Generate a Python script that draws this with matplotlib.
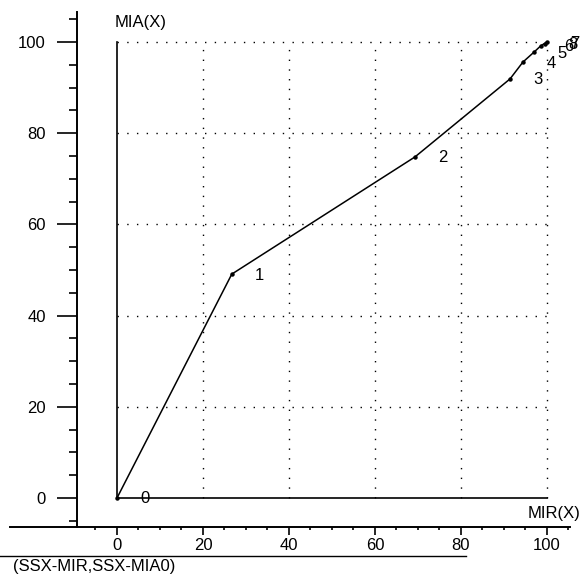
import matplotlib
matplotlib.use("Agg")
import matplotlib.pyplot as plt
from matplotlib.lines import Line2D
from matplotlib.ticker import MultipleLocator

plt.rcParams['font.family'] = ['Liberation Sans', 'DejaVu Sans']

# Data
mir = [0, 26.7, 69.3, 91.4, 94.4, 97.0, 98.6, 100.0, 99.6]
mia = [0, 49.1, 74.8, 91.9, 95.6, 97.8, 99.2, 100.0, 99.6]
point_labels = ["0", "1", "2", "3", "4", "5", "6", "7", "8"]
xticks = [0, 20, 40, 60, 80, 100]
yticks = [0, 20, 40, 60, 80, 100]
xlabel = "MIR(X)"
ylabel = "MIA(X)"
footer = "(SSX-MIR,SSX-MIA0)"

W, H = 582, 580
fig = plt.figure(figsize=(W / 100, H / 100), dpi=100)
ax = fig.add_axes([77 / W, (H - 527) / H, (570 - 77) / W, (527 - 12) / H])
ax.set_xlim(-9.30, 105.35)
ax.set_ylim(-6.36, 106.58)

for s in ["top", "right"]:
    ax.spines[s].set_visible(False)
for s in ["left", "bottom"]:
    ax.spines[s].set_linewidth(1.4)

ax.set_xticks(xticks)
ax.set_yticks(yticks)
ax.xaxis.set_minor_locator(MultipleLocator(5))
ax.yaxis.set_minor_locator(MultipleLocator(5))
ax.tick_params(axis='y', which='major', direction='out', length=14.4, width=1.2, pad=8, labelsize=12)
ax.tick_params(axis='y', which='minor', direction='out', length=6, width=1.2)
ax.tick_params(axis='x', which='major', direction='out', length=6, width=1.2, pad=2, labelsize=12)
ax.tick_params(axis='x', which='minor', direction='out', length=2.2, width=1.2)

# extend bottom line to the left
ax.plot([-24.9, -9.30], [-6.36, -6.36], color='black', lw=1.4, clip_on=False)

# dotted grid
for g in xticks[1:]:
    ax.plot([g, g], [0, 100], color='black', lw=1.0, linestyle=(0, (1, 6)))
for g in yticks[1:]:
    ax.plot([0, 100], [g, g], color='black', lw=1.0, linestyle=(0, (1, 6)))

# inner axes
ax.plot([0, 0], [0, 100], color='black', lw=1.2)
ax.plot([0, 100], [0, 0], color='black', lw=1.2)

# data
ax.plot(mir, mia, color='black', lw=1.1, marker='o', markersize=2.2)
for x, y, t in zip(mir, mia, point_labels):
    ax.annotate(t, (x, y), xytext=(28, -1), textcoords='offset pixels',
                ha='center', va='center', fontsize=12, annotation_clip=False)

ax.text(-0.5, 104.2, ylabel, fontsize=12, ha='left', va='center')
ax.text(95.6, -3.3, xlabel, fontsize=12, ha='left', va='center', clip_on=False)

fig.add_artist(Line2D([0, 466 / W], [1 - 556 / H, 1 - 556 / H], color='black', lw=1.0))
fig.text(13 / W, 1 - 567 / H, footer, fontsize=12, ha='left', va='center')

fig.savefig("out.png", dpi=100)
